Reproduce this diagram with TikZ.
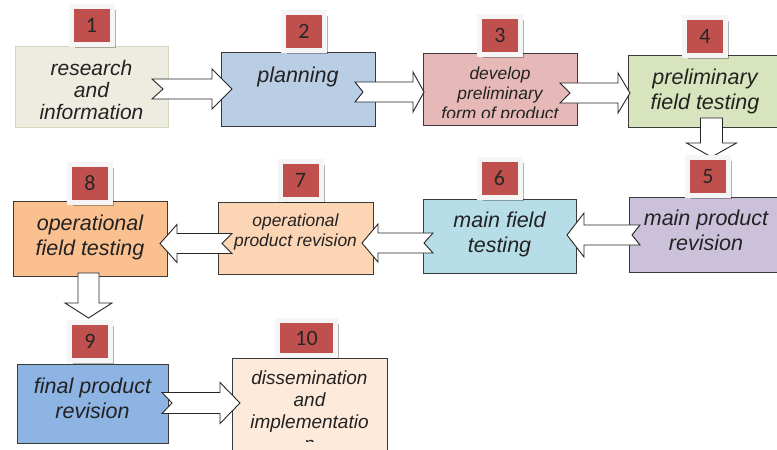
\documentclass[tikz,border=0pt]{standalone}
\usepackage{fontspec}
\setmainfont{Liberation Sans}
\newfontfamily\numfont{Carlito}
\usetikzlibrary{positioning,calc,shadows}

\definecolor{tagred}{HTML}{C0504D}
\definecolor{boxline}{HTML}{3A3A3A}
\definecolor{textgray}{HTML}{222222}
\definecolor{bgresearch}{HTML}{EEECE1}
\definecolor{lineresearch}{HTML}{D3D7BE}
\definecolor{bgplan}{HTML}{B9CDE5}
\definecolor{bgdevelop}{HTML}{E6B9B8}
\definecolor{bgprelim}{HTML}{D7E4BD}
\definecolor{bgmainrev}{HTML}{CCC1DA}
\definecolor{bgmaintest}{HTML}{B7DEE8}
\definecolor{bgoprev}{HTML}{FCD5B5}
\definecolor{bgoptest}{HTML}{FAC090}
\definecolor{bgfinal}{HTML}{8EB4E3}
\definecolor{bgdissem}{HTML}{FDEADA}

\tikzset{
  stage/.style={draw=boxline, line width=0.9pt, minimum width=154pt, minimum height=74pt,
    anchor=north west, inner sep=0pt, outer sep=0pt},
  stagetext/.style={align=center, inner sep=0pt, text=textgray,
    font=\itshape\fontsize{21.5}{25}\selectfont},
  tighttext/.style={stagetext, font=\itshape\fontsize{21}{22}\selectfont},
  smalltext/.style={stagetext, font=\itshape\fontsize{17.4}{20}\selectfont},
  numtag/.style={fill=tagred, draw=white!96!black, line width=5pt, minimum width=41pt, minimum height=38pt,
    inner sep=0pt, outer sep=0pt, text=black!85, font=\numfont\fontsize{22}{22}\selectfont,
    drop shadow={shadow xshift=3.5pt, shadow yshift=-3.5pt, opacity=0.3, fill=black}},
  fatarr/.style={draw=black!85, fill=white, line width=0.9pt, line join=miter}
}

% block arrow: tail, angle, length, head length, notch, shaft half width, head half width
\newcommand{\fatarrow}[7]{%
  \begin{scope}[shift={#1}, rotate=#2]
    \draw[fatarr] (#5,0) -- (0,-#6) -- (#3-#4,-#6) -- (#3-#4,-#7) -- (#3,0)
      -- (#3-#4,#7) -- (#3-#4,#6) -- (0,#6) -- cycle;
  \end{scope}}

\begin{document}
\begin{tikzpicture}[x=1pt, y=-1pt]
\clip (0,0) rectangle (777,450);
\fill[white] (0,0) rectangle (777,450);

% stages
\node[stage, fill=bgresearch, draw=lineresearch, minimum width=153pt, minimum height=81pt] (b1) at (15,46) {};
\node[stage, fill=bgplan] (b2) at (221,52) {};
\node[stage, fill=bgdevelop, minimum height=72pt] (b3) at (423,53) {};
\node[stage, fill=bgprelim, minimum height=72pt] (b4) at (628,55) {};
\node[stage, fill=bgmainrev, minimum height=75pt] (b5) at (629,197) {};
\node[stage, fill=bgmaintest, minimum width=153pt] (b6) at (423,199) {};
\node[stage, fill=bgoprev, minimum width=155pt, minimum height=72pt] (b7) at (218,202) {};
\node[stage, fill=bgoptest, minimum height=75pt] (b8) at (13,201) {};
\node[stage, fill=bgfinal, minimum width=151pt, minimum height=79pt] (b9) at (17,364) {};
\node[stage, fill=bgdissem, minimum width=155pt, minimum height=95pt] (b10) at (232,358) {};

% arrows
\fatarrow{($(b1.east)+(-16,2.5)$)}{0}{80}{20}{11}{10}{20}
\fatarrow{($(b2.east)+(-20,3)$)}{0}{69}{11}{8}{10}{20}
\fatarrow{($(b3.east)+(-17,4)$)}{0}{70}{12}{10}{10}{20}
\fatarrow{($(b4.south)+(6.5,-9)$)}{-90}{39}{14}{0}{11}{25}
\fatarrow{($(b5.west)+(11,0.5)$)}{180}{73}{17}{8}{10}{22}
\fatarrow{($(b6.west)+(10,7)$)}{180}{71}{16}{9}{10}{19}
\fatarrow{($(b7.west)+(14,5.5)$)}{180}{72}{17}{10}{10}{19}
\fatarrow{($(b8.south)+(-1.5,-3)$)}{-90}{45}{15}{0}{10.5}{23.5}
\fatarrow{($(b9.east)+(-6,-0.5)$)}{0}{78}{20}{10}{10.5}{20.5}

% texts
\begin{scope}
  \clip (b1.north west) rectangle ([yshift=9pt]b1.south east);
  \node[tighttext, below=14pt of b1.north] (t1) {research\\and\\information};
\end{scope}
\node[stagetext, below=14.5pt of b2.north] (t2) {planning};
\begin{scope}
  \clip (b3.north west) rectangle ([yshift=8pt]b3.south east);
  \node[smalltext, below=13.5pt of b3.north] (t3) {develop\\preliminary\\form of product};
\end{scope}
\node[stagetext, below=14pt of b4.north] (t4) {preliminary\\field testing};
\node[stagetext, below=12.5pt of b5.north] (t5) {main product\\revision};
\node[stagetext, below=12.5pt of b6.north] (t6) {main field\\testing};
\node[smalltext, below=11.5pt of b7.north] (t7) {operational\\product revision};
\node[stagetext, below=13.5pt of b8.north] (t8) {operational\\field testing};
\node[stagetext, below=13.5pt of b9.north] (t9) {final product\\revision};
\begin{scope}
  \clip (b10.north west) rectangle ([yshift=12pt]b10.south east);
  \node[tighttext, font=\itshape\fontsize{19}{22}\selectfont, below=13pt of b10.north] (t10) {dissemination\\and\\implementatio\\n};
\end{scope}

% number tags
\node[numtag, above=1.5pt of b1] (n1) {1};
\node[numtag, above=1.5pt of b2, xshift=6pt] (n2) {2};
\node[numtag, above=-1.5pt of b3] (n3) {3};
\node[numtag, above=-0.5pt of b4] (n4) {4};
\node[numtag, above=1.5pt of b5, xshift=2pt] (n5) {5};
\node[numtag, above=1.5pt of b6] (n6) {6};
\node[numtag, above=2.5pt of b7, xshift=5pt] (n7) {7};
\node[numtag, above=-1.5pt of b8] (n8) {8};
\node[numtag, above=3.5pt of b9, xshift=-2.5pt] (n9) {9};
\node[numtag, above=2.5pt of b10, xshift=-3pt, minimum width=58pt, minimum height=35pt] (n10) {10};
\end{tikzpicture}
\end{document}
